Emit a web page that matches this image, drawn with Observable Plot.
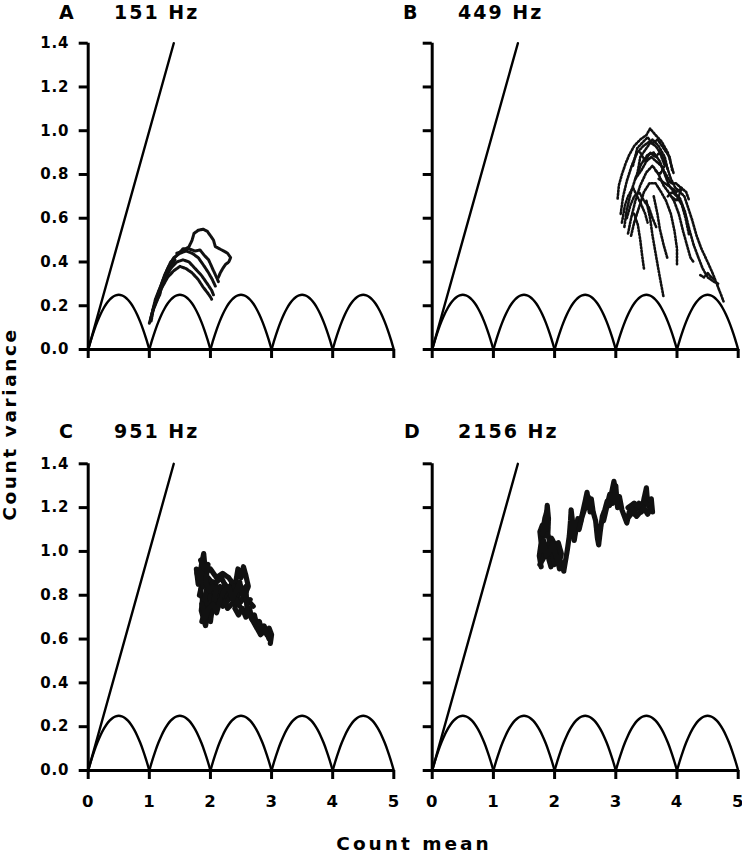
<!DOCTYPE html>
<html><head><meta charset="utf-8">
<script src="https://cdn.jsdelivr.net/npm/d3@7"></script>
<script src="https://cdn.jsdelivr.net/npm/@observablehq/plot@0.6"></script>
<style>
html,body{margin:0;padding:0;background:#fff;}
body{width:742px;height:853px;position:relative;overflow:hidden;font-family:"DejaVu Sans",sans-serif;color:#000;}
.panel{position:absolute;}
.panel svg{background:none !important;overflow:visible;}
.panel svg text{letter-spacing:0.8px;}
.t{position:absolute;font-weight:bold;font-size:19px;line-height:19px;letter-spacing:2px;white-space:nowrap;}
.ax{position:absolute;font-weight:bold;font-size:18.5px;line-height:18.5px;letter-spacing:3px;white-space:nowrap;}
</style></head><body>
<script>
// ---- tick labels / categories ----
const xTicks = [0, 1, 2, 3, 4, 5];
const xTickLabels = ["0", "1", "2", "3", "4", "5"];
const yTicks = [0, 0.2, 0.4, 0.6, 0.8, 1.0, 1.2, 1.4];
const yTickLabels = ["0.0", "0.2", "0.4", "0.6", "0.8", "1.0", "1.2", "1.4"];
const panelLetters = ["A", "B", "C", "D"];
const panelFreqs = ["151 Hz", "449 Hz", "951 Hz", "2156 Hz"];
const xLabel = "Count mean";
const yLabel = "Count variance";

// ---- reference curves ----
const poissonMean = [0, 1.4];
const poissonVar = [0, 1.4];
const arcStarts = [0, 1, 2, 3, 4];
const arcFrac = [0, 0.05, 0.1, 0.15, 0.2, 0.25, 0.3, 0.35, 0.4, 0.45, 0.5, 0.55, 0.6, 0.65, 0.7, 0.75, 0.8, 0.85, 0.9, 0.95, 1];
const arcVar = [0, 0.0475, 0.09, 0.1275, 0.16, 0.1875, 0.21, 0.2275, 0.24, 0.2475, 0.25, 0.2475, 0.24, 0.2275, 0.21, 0.1875, 0.16, 0.1275, 0.09, 0.0475, 0];

// ---- Panel A (151 Hz): traces of [mean, variance] ----
const tracesA = [
  [[1.00,0.12],[1.05,0.17],[1.12,0.22],[1.2,0.28],[1.3,0.33],[1.4,0.36],[1.5,0.38],[1.6,0.37],[1.7,0.35],[1.8,0.32],[1.88,0.285],[1.95,0.26],[2.0,0.24],[2.02,0.23]],
  [[1.02,0.14],[1.08,0.20],[1.15,0.26],[1.25,0.32],[1.35,0.37],[1.45,0.40],[1.55,0.41],[1.65,0.40],[1.75,0.37],[1.85,0.34],[1.95,0.30],[2.02,0.27],[2.05,0.25]],
  [[1.04,0.16],[1.1,0.23],[1.2,0.30],[1.3,0.37],[1.4,0.42],[1.5,0.44],[1.6,0.45],[1.7,0.44],[1.8,0.42],[1.9,0.38],[1.97,0.35],[2.03,0.32],[2.08,0.29]],
  [[1.06,0.18],[1.15,0.26],[1.25,0.34],[1.35,0.40],[1.45,0.43],[1.55,0.46],[1.65,0.46],[1.75,0.45],[1.83,0.455],[1.9,0.43],[1.97,0.41],[2.05,0.36],[2.1,0.33],[2.13,0.31]],
  [[1.45,0.44],[1.55,0.45],[1.65,0.47],[1.7,0.50],[1.73,0.53],[1.8,0.545],[1.88,0.55],[1.95,0.54],[2.0,0.52],[2.05,0.50],[2.08,0.47],[2.15,0.46],[2.22,0.45],[2.28,0.44],[2.33,0.42],[2.3,0.40],[2.25,0.39],[2.2,0.37],[2.16,0.35],[2.13,0.33]],
  [[1.03,0.13],[1.07,0.19],[1.1,0.21],[1.17,0.25],[1.22,0.31],[1.28,0.35],[1.36,0.38],[1.42,0.41]]
];

// ---- Panel B (449 Hz) ----
const tracesB = [
  [[3.03,0.69],[3.05,0.75],[3.1,0.80],[3.16,0.85],[3.22,0.89],[3.3,0.93],[3.4,0.96],[3.5,0.98],[3.56,1.01],[3.65,0.98],[3.75,0.95],[3.85,0.90],[3.9,0.85],[3.95,0.80]],
  [[3.08,0.62],[3.12,0.70],[3.18,0.77],[3.26,0.84],[3.35,0.90],[3.45,0.93],[3.55,0.95],[3.65,0.93],[3.75,0.89],[3.83,0.84],[3.9,0.78],[3.97,0.74],[4.05,0.72],[4.12,0.70],[4.18,0.65],[4.25,0.59],[4.32,0.52],[4.4,0.46],[4.5,0.40],[4.58,0.35],[4.65,0.30],[4.72,0.25],[4.76,0.22]],
  [[3.14,0.56],[3.18,0.64],[3.25,0.72],[3.33,0.79],[3.42,0.85],[3.52,0.89],[3.62,0.90],[3.72,0.86],[3.8,0.80],[3.87,0.75],[3.95,0.72],[4.05,0.69],[4.13,0.63],[4.2,0.55],[4.27,0.48],[4.35,0.42],[4.42,0.37],[4.5,0.33],[4.6,0.31],[4.68,0.30]],
  [[3.2,0.53],[3.25,0.60],[3.32,0.68],[3.4,0.75],[3.5,0.81],[3.6,0.84],[3.7,0.80],[3.78,0.75],[3.86,0.72],[3.95,0.68],[4.03,0.62],[4.1,0.54],[4.17,0.47],[4.22,0.42],[4.27,0.40]],
  [[3.25,0.52],[3.3,0.58],[3.38,0.65],[3.46,0.72],[3.55,0.76],[3.65,0.76],[3.74,0.72],[3.82,0.68],[3.9,0.62],[3.96,0.54],[4.0,0.46],[4.0,0.39]],
  [[3.3,0.62],[3.36,0.57],[3.4,0.50],[3.43,0.43],[3.46,0.37]],
  [[3.5,0.68],[3.56,0.60],[3.6,0.52],[3.65,0.44],[3.7,0.36],[3.74,0.30],[3.78,0.24]],
  [[3.62,0.70],[3.68,0.62],[3.72,0.55],[3.78,0.48],[3.84,0.42]],
  [[3.35,0.80],[3.4,0.88],[3.5,0.92],[3.6,0.96],[3.7,0.93],[3.8,0.88],[3.85,0.82]],
  [[3.7,0.78],[3.8,0.76],[3.9,0.74],[4.0,0.72],[4.08,0.74],[4.0,0.68],[3.9,0.70]],
  [[3.28,0.84],[3.35,0.92],[3.45,0.95],[3.52,0.97],[3.6,0.94],[3.68,0.96],[3.78,0.92],[3.88,0.88],[3.92,0.82]],
  [[3.32,0.78],[3.42,0.82],[3.5,0.86],[3.58,0.88],[3.66,0.86],[3.74,0.84],[3.82,0.80],[3.9,0.76],[3.98,0.76],[4.06,0.74],[4.15,0.72],[4.2,0.68]],
  [[3.1,0.58],[3.15,0.66],[3.2,0.70],[3.28,0.74],[3.35,0.70],[3.42,0.66],[3.48,0.62],[3.52,0.58]],
  [[3.18,0.60],[3.24,0.66],[3.3,0.70],[3.38,0.72],[3.46,0.68],[3.54,0.65],[3.6,0.60],[3.66,0.56]],
  [[3.85,0.70],[3.92,0.72],[4.0,0.70],[4.08,0.66],[4.14,0.60],[4.2,0.52]],
  [[4.38,0.34],[4.44,0.33],[4.5,0.35],[4.56,0.33],[4.62,0.32]],
  [[3.4,0.90],[3.48,0.86],[3.56,0.90],[3.64,0.88],[3.72,0.90],[3.8,0.84],[3.72,0.80],[3.64,0.82]]
];

// ---- Panel C (951 Hz) ----
const tracesC = [
  [[1.80,0.88],[1.77,0.92],[1.80,0.85],[1.83,0.90],[1.86,0.95],[1.89,0.99],[1.91,0.93],[1.88,0.87],[1.84,0.82],[1.87,0.78],[1.85,0.73],[1.88,0.70],[1.92,0.66],[1.95,0.71],[1.93,0.76],[1.97,0.80],[2.0,0.84],[1.96,0.88],[2.02,0.86],[2.06,0.82],[2.03,0.77],[2.08,0.74],[2.12,0.79],[2.16,0.84],[2.2,0.80],[2.24,0.85],[2.28,0.82],[2.25,0.76],[2.3,0.79],[2.35,0.86],[2.38,0.81],[2.42,0.87],[2.45,0.92],[2.5,0.88],[2.54,0.93],[2.58,0.89],[2.62,0.84],[2.56,0.80],[2.5,0.77],[2.44,0.79],[2.4,0.74],[2.46,0.71],[2.52,0.74],[2.58,0.70],[2.64,0.74],[2.68,0.69],[2.72,0.71],[2.76,0.66],[2.8,0.68],[2.84,0.64],[2.88,0.66],[2.92,0.62],[2.96,0.65],[3.0,0.62],[2.98,0.58]],
  [[1.82,0.80],[1.9,0.90],[2.0,0.92],[2.1,0.88],[2.2,0.90],[2.3,0.88],[2.4,0.84],[2.3,0.78],[2.2,0.75],[2.1,0.80],[2.0,0.78],[1.95,0.82],[2.05,0.86],[2.15,0.82],[2.35,0.82],[2.5,0.82],[2.6,0.78],[2.7,0.75]],
  [[1.78,0.90],[1.82,0.86],[1.85,0.92],[1.88,0.84],[1.92,0.88],[1.95,0.84],[1.9,0.78],[1.94,0.74],[1.98,0.76],[2.02,0.72],[2.0,0.68]],
  [[2.1,0.86],[2.18,0.88],[2.25,0.84],[2.32,0.80],[2.38,0.84],[2.45,0.80],[2.5,0.84],[2.55,0.80],[2.6,0.76],[2.65,0.78]],
  [[2.2,0.78],[2.28,0.74],[2.35,0.76],[2.42,0.78],[2.48,0.75]],
  [[1.84,0.96],[1.9,0.92],[1.96,0.94],[1.92,0.86],[1.98,0.82],[2.04,0.84],[2.1,0.83],[2.06,0.78],[2.14,0.76],[2.22,0.82],[2.3,0.84],[2.36,0.78],[2.42,0.82],[2.48,0.86],[2.52,0.8],[2.58,0.84],[2.6,0.72],[2.66,0.7],[2.74,0.66],[2.82,0.62],[2.9,0.64],[2.96,0.6]],
  [[1.86,0.76],[1.9,0.72],[1.86,0.68],[1.92,0.7],[1.97,0.74],[2.04,0.76],[2.1,0.72],[2.16,0.78]]
];

// ---- Panel D (2156 Hz) ----
const tracesD = [
  [[1.78,0.93],[1.75,0.98],[1.78,1.04],[1.76,1.09],[1.8,1.12],[1.84,1.07],[1.86,1.14],[1.88,1.21],[1.9,1.15],[1.89,1.08],[1.93,1.03],[1.9,0.97],[1.94,0.93],[1.98,0.96],[2.02,1.01],[2.05,0.96],[2.08,0.92],[2.12,0.95],[2.15,0.91],[2.18,0.96],[2.21,1.01],[2.24,1.07],[2.26,1.14],[2.27,1.19],[2.3,1.12],[2.32,1.05],[2.35,1.10],[2.38,1.15],[2.42,1.13],[2.46,1.18],[2.5,1.23],[2.53,1.27],[2.56,1.21],[2.6,1.24],[2.63,1.18],[2.67,1.14],[2.7,1.06],[2.72,1.03],[2.75,1.10],[2.78,1.16],[2.82,1.19],[2.86,1.23],[2.9,1.21],[2.94,1.28],[2.97,1.32],[3.0,1.26],[3.03,1.20],[3.06,1.25],[3.1,1.19],[3.14,1.16],[3.18,1.13],[3.22,1.18],[3.26,1.21],[3.3,1.17],[3.34,1.20],[3.38,1.22],[3.42,1.18],[3.46,1.24],[3.5,1.29],[3.52,1.22],[3.55,1.20],[3.58,1.24],[3.6,1.18]],
  [[1.76,0.94],[1.82,0.97],[1.85,1.01],[1.8,1.04],[1.88,0.99],[1.95,1.0],[2.0,0.94],[2.05,1.02],[2.1,0.98],[1.95,1.06],[1.82,1.0]],
  [[3.2,1.20],[3.3,1.22],[3.4,1.20],[3.5,1.22],[3.58,1.20]],
  [[2.4,1.10],[2.45,1.16],[2.5,1.20],[2.55,1.25],[2.58,1.18]],
  [[2.8,1.14],[2.85,1.20],[2.9,1.26],[2.95,1.22],[3.0,1.30],[3.02,1.22]],
  [[1.8,1.08],[1.84,1.15],[1.87,1.18],[1.86,1.10]],
  [[1.77,1.0],[1.82,1.05],[1.86,0.98],[1.92,1.0],[1.97,1.04],[2.02,0.98],[2.07,0.94],[2.11,0.99],[2.06,1.04]],
  [[3.22,1.16],[3.28,1.19],[3.34,1.16],[3.4,1.18],[3.46,1.2],[3.52,1.17],[3.58,1.2]]
];

const panelTraces = [tracesA, tracesB, tracesC, tracesD];

// ---- layout (positions only) ----
const layout = [
  {left: 0,   top: 0,   width: 410, height: 380, ml: 87.7, mr: 16.7, mt: 42.7, mb: 31,  showX: false, showY: true},
  {left: 380, top: 0,   width: 362, height: 380, ml: 51.7, mr: 4.3,  mt: 42.7, mb: 31,  showX: false, showY: false},
  {left: 0,   top: 420, width: 410, height: 433, ml: 87.7, mr: 16.7, mt: 43.3, mb: 83,  showX: true,  showY: true},
  {left: 380, top: 420, width: 362, height: 433, ml: 51.7, mr: 4.3,  mt: 43.3, mb: 83,  showX: true,  showY: false}
];
const titlePos = [
  {lx: 59, fx: 114, top: 3},
  {lx: 403, fx: 458, top: 3},
  {lx: 59, fx: 114, top: 422},
  {lx: 404, fx: 458, top: 422}
];

const arcRows = arcStarts.flatMap(s => arcFrac.map((f, i) => ({m: s + f, v: arcVar[i], k: s})));
const poissonRows = poissonMean.map((m, i) => ({m, v: poissonVar[i]}));
const rowsOf = traces => traces.flatMap((t, k) => t.map(([m, v]) => ({m, v, k})));

layout.forEach((L, p) => {
  const rows = rowsOf(panelTraces[p]);
  const scatterStyle = p === 1
    ? {strokeWidth: 2.6, strokeDasharray: "1.6,1.8"}
    : p === 0
      ? {strokeWidth: 3, strokeDasharray: "3.5,1"}
      : {strokeWidth: 5.2, strokeDasharray: "4,0.8"};
  const chart = Plot.plot({
    width: L.width, height: L.height,
    marginLeft: L.ml, marginRight: L.mr, marginTop: L.mt, marginBottom: L.mb,
    x: {domain: [0, 5], axis: null},
    y: {domain: [0, 1.4], axis: null},
    style: {fontFamily: "DejaVu Sans, sans-serif", fontWeight: "bold", color: "#000", background: "none", overflow: "visible"},
    marks: [
      Plot.axisX(xTicks, {tickSize: 9, strokeWidth: 3, tickPadding: 16, fontSize: 16.5, label: null,
        tickFormat: d => L.showX ? xTickLabels[xTicks.indexOf(d)] : ""}),
      Plot.axisY(yTicks, {tickSize: 9, strokeWidth: 3, tickPadding: 10, fontSize: 15, label: null,
        tickFormat: d => L.showY ? yTickLabels[yTicks.indexOf(d)] : ""}),
      Plot.ruleY([0], {strokeWidth: 3}),
      Plot.ruleX([0], {y1: 0, y2: 1.4, strokeWidth: 3}),
      Plot.line(arcRows, {x: "m", y: "v", z: "k", curve: "natural", strokeWidth: 2.4}),
      Plot.line(poissonRows, {x: "m", y: "v", strokeWidth: 2.4}),
      Plot.line(rows, {x: "m", y: "v", z: "k", stroke: "#111", strokeLinejoin: "round", ...scatterStyle})
    ]
  });
  const div = document.createElement("div");
  div.className = "panel";
  div.style.left = L.left + "px";
  div.style.top = L.top + "px";
  div.appendChild(chart);
  document.body.appendChild(div);

  const T = titlePos[p];
  const a = document.createElement("div");
  a.className = "t"; a.textContent = panelLetters[p];
  a.style.left = T.lx + "px"; a.style.top = T.top + "px";
  document.body.appendChild(a);
  const f = document.createElement("div");
  f.className = "t"; f.textContent = panelFreqs[p];
  f.style.left = T.fx + "px"; f.style.top = T.top + "px";
  document.body.appendChild(f);
});

const xl = document.createElement("div");
xl.className = "ax"; xl.textContent = xLabel;
xl.style.left = "414px"; xl.style.top = "835px"; xl.style.transform = "translateX(-50%)";
document.body.appendChild(xl);

const yl = document.createElement("div");
yl.className = "ax"; yl.textContent = yLabel;
yl.style.letterSpacing = "2.6px";
yl.style.left = "10px"; yl.style.top = "424px";
yl.style.transform = "translate(-50%,-50%) rotate(-90deg)";
document.body.appendChild(yl);
</script>
</body></html>
